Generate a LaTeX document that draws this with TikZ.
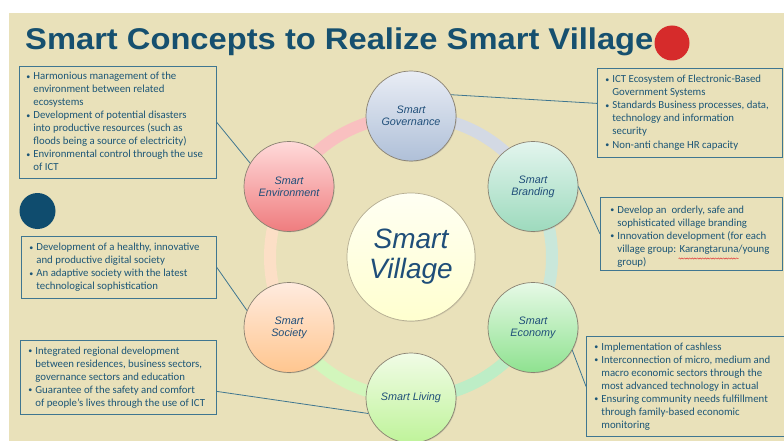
\documentclass[tikz,border=0pt]{standalone}
\usepackage{fontspec}
\usepackage{graphicx}
\setmainfont{Carlito}
\newfontfamily\arialf{Liberation Sans}
\usetikzlibrary{shadows,decorations.pathmorphing}

% palette
\definecolor{panel}{HTML}{E9E1BA}
\definecolor{titleblue}{HTML}{16506F}
\definecolor{reddot}{HTML}{D62B2B}
\definecolor{bluedot}{HTML}{0F4C6E}
\definecolor{boxborder}{HTML}{3F7690}
\definecolor{boxtext}{HTML}{1C5677}
\definecolor{circtext}{HTML}{1F4E79}
\definecolor{circborder}{HTML}{8A8272}
\definecolor{wavered}{HTML}{E03A3A}
% ring bands
\definecolor{bandgov}{HTML}{D3D9E4}
\definecolor{bandbrand}{HTML}{C9E7DA}
\definecolor{bandecon}{HTML}{BDEDC6}
\definecolor{bandliv}{HTML}{D2F6BC}
\definecolor{bandsoc}{HTML}{FCDFC6}
\definecolor{bandenv}{HTML}{F9C0C0}
% circle fills (top / bottom)
\definecolor{govtop}{HTML}{E9EDF5}   \definecolor{govbot}{HTML}{AFC0D8}
\definecolor{envtop}{HTML}{FFDADA}   \definecolor{envbot}{HTML}{EF7C7E}
\definecolor{brandtop}{HTML}{E3F5EE} \definecolor{brandbot}{HTML}{9DDABD}
\definecolor{econtop}{HTML}{E6F9E6}  \definecolor{econbot}{HTML}{8FE290}
\definecolor{soctop}{HTML}{FFEBDF}   \definecolor{socbot}{HTML}{FFC68F}
\definecolor{livtop}{HTML}{F1FCE6}   \definecolor{livbot}{HTML}{BFF39A}
\definecolor{midtop}{HTML}{FFFFF3}   \definecolor{midbot}{HTML}{FFFFCF}
\definecolor{midborder}{HTML}{B5AD92}

\newcommand\bul{\makebox[7pt][l]{\raisebox{0.3pt}{\fontsize{8}{8}\selectfont•}}}
\newcommand\ind{\hspace*{7pt}}
% left-aligned block of lines, of a fixed width #1
\newcommand\lines[2]{\makebox[#1][l]{\begin{tabular}{@{}l@{}}#2\end{tabular}}}

\tikzset{
  sat/.style={circle, minimum size=90pt, inner sep=0pt, draw=circborder,
    line width=0.7pt, align=center, text=circtext,
    font=\arialf\itshape\fontsize{10.8}{12}\selectfont,
    drop shadow={shadow xshift=0.8pt, shadow yshift=-0.8pt, opacity=0.25}},
  infobox/.style={draw=boxborder, line width=0.8pt, inner ysep=0pt,
    anchor=north west, text=boxtext, font=\fontsize{10.8}{13}\selectfont},
  band/.style={line width=12pt},
  link/.style={draw=boxborder, line width=0.8pt},
  squiggle/.style={draw=wavered, line width=0.5pt, decorate,
    decoration={snake, amplitude=0.6pt, segment length=2.6pt}}
}

\begin{document}
\begin{tikzpicture}[x=1pt, y=-1pt]
\useasboundingbox (0,0) rectangle (784,441);
\fill[white] (0,0) rectangle (784,441);
\fill[panel] (9,13) rectangle (784,441);

% heading and markers
\node[anchor=base west, inner sep=0pt, text=titleblue,
  font=\arialf\bfseries\fontsize{30}{32}\selectfont] (title) at (25,50)
  {\scalebox{1.09}[1]{Smart Concepts to Realize Smart Village}};
\node[circle, fill=reddot, minimum size=35pt, inner sep=0pt] (red) at (672,43) {};
\node[circle, fill=bluedot, minimum size=36pt, inner sep=0pt] (blue) at (37.5,211) {};

% ring bands between the satellites
\foreach \a/\b/\c in {-90/-30/bandgov, -30/30/bandbrand, 30/90/bandecon,
                      90/150/bandliv, 150/210/bandsoc, 210/270/bandenv}
  \draw[band, draw=\c] plot[domain=\a:\b, samples=40, smooth]
    ({411+141*cos(\x)},{257+141*sin(\x)});

% info boxes
\node[infobox, minimum width=197pt, minimum height=112pt, inner xsep=7pt]
  (benv) at (19,66) {\lines{183pt}{%
\bul Harmonious management of the\\
\ind environment between related\\
\ind ecosystems\\
\bul Development of potential disasters\\
\ind into productive resources (such as\\
\ind floods being a source of electricity)\\
\bul Environmental control through the use\\
\ind of ICT}};

\node[infobox, minimum width=185pt, minimum height=89pt, inner xsep=8pt]
  (bgov) at (597,68) {\lines{169pt}{%
\bul ICT Ecosystem of Electronic-Based\\
\ind Government Systems\\
\bul Standards Business processes, data,\\
\ind technology and information\\
\ind security\\
\bul Non-anti change HR capacity}};

\node[infobox, minimum width=182pt, minimum height=73pt, inner xsep=10pt]
  (bbrand) at (600,197) {\raisebox{0pt}[\dimexpr\height+5pt\relax][\depth]{\lines{162pt}{%
\bul Develop an\ \ orderly, safe and\\
\ind sophisticated village branding\\
\bul Innovation development (for each\\
\ind village group: Karangtaruna/young\\
\ind group)}}};
% spelling squiggle under "Karangtaruna"
\coordinate (sqa) at (678.5,258.5);
\coordinate (sqb) at (738.5,258.5);
\draw[squiggle] (sqa) -- (sqb);

\node[infobox, minimum width=195pt, minimum height=62pt, inner xsep=8pt]
  (bsoc) at (21,236) {\lines{179pt}{%
\bul Development of a healthy, innovative\\
\ind and productive digital society\\
\bul An adaptive society with the latest\\
\ind technological sophistication}};

\node[infobox, minimum width=196pt, minimum height=74pt, inner xsep=8pt]
  (bliv) at (20,340) {\lines{180pt}{%
\bul Integrated regional development\\
\ind between residences, business sectors,\\
\ind governance sectors and education\\
\bul Guarantee of the safety and comfort\\
\ind of people's lives through the use of ICT}};

\node[infobox, minimum width=204pt, minimum height=100pt, inner xsep=8pt]
  (becon) at (586,336) {\lines{188pt}{%
\bul Implementation of cashless\\
\bul Interconnection of micro, medium and\\
\ind macro economic sectors through the\\
\ind most advanced technology in actual\\
\bul Ensuring community needs fulfillment\\
\ind through family-based economic\\
\ind monitoring}};

% centre circle
\node[circle, minimum size=128pt, inner sep=0pt, draw=midborder, line width=0.7pt,
  top color=midtop, bottom color=midbot, text=circtext, align=center,
  font=\arialf\itshape\fontsize{28}{30}\selectfont,
  drop shadow={shadow xshift=0.8pt, shadow yshift=-0.8pt, opacity=0.2}]
  (village) at (411,257) {Smart\\Village};

% satellite circles
\node[sat, top color=govtop, bottom color=govbot] (sgov) at (411,116) {Smart\\Governance};
\node[sat, top color=brandtop, bottom color=brandbot] (sbrand) at (533,186.5) {Smart\\Branding};
\node[sat, top color=econtop, bottom color=econbot] (secon) at (533,327.5) {Smart\\Economy};
\node[sat, top color=livtop, bottom color=livbot] (sliv) at (411,398) {Smart Living};
\node[sat, top color=soctop, bottom color=socbot] (ssoc) at (289,327.5) {Smart\\Society};
\node[sat, top color=envtop, bottom color=envbot] (senv) at (289,186.5) {Smart\\Environment};

% connectors from the boxes to their circles
\draw[link] (benv.east) -- (senv.149);
\draw[link] ([yshift=9.5pt]bgov.west) -- (sgov.28);
\draw[link] (bbrand.west) -- (sbrand.0);
\draw[link] (becon.west) -- (secon.-30);
\draw[link] (bsoc.east) -- (ssoc.158);
\draw[link] ([yshift=-14pt]bliv.east) -- (sliv.200);
\end{tikzpicture}
\end{document}
